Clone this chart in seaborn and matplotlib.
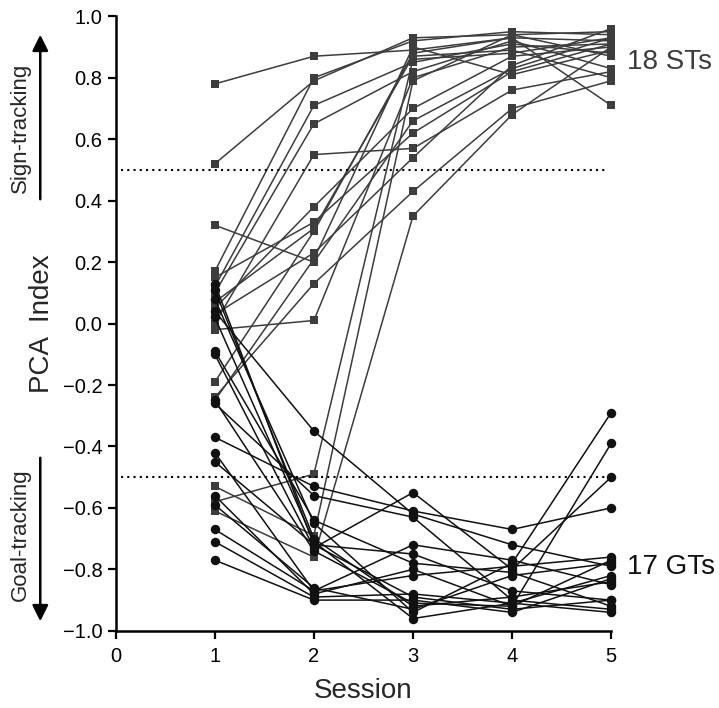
import pandas as pd
import matplotlib.pyplot as plt
import seaborn as sns

sessions = [1, 2, 3, 4, 5]

# PCA index per rat, sessions 1-5
st_rats = [
    [0.78, 0.87, 0.89, 0.93, 0.92],
    [0.52, 0.79, 0.93, 0.94, 0.95],
    [0.32, 0.20, 0.66, 0.83, 0.93],
    [0.17, 0.80, 0.92, 0.95, 0.94],
    [0.15, 0.33, 0.62, 0.82, 0.91],
    [0.12, 0.71, 0.85, 0.91, 0.88],
    [0.10, 0.65, 0.82, 0.92, 0.83],
    [0.07, 0.31, 0.87, 0.89, 0.80],
    [0.05, 0.38, 0.70, 0.87, 0.90],
    [0.03, 0.23, 0.54, 0.84, 0.96],
    [-0.02, 0.01, 0.80, 0.90, 0.91],
    [0.00, 0.55, 0.57, 0.76, 0.82],
    [-0.19, 0.30, 0.88, 0.93, 0.71],
    [-0.24, 0.13, 0.43, 0.70, 0.79],
    [-0.25, 0.21, 0.90, 0.81, 0.89],
    [-0.53, -0.69, 0.79, 0.94, 0.87],
    [-0.58, -0.49, 0.86, 0.88, 0.93],
    [-0.61, -0.76, 0.35, 0.68, 0.90],
]

gt_rats = [
    [0.13, -0.72, -0.89, -0.93, -0.90],
    [0.11, -0.70, -0.92, -0.89, -0.84],
    [0.08, -0.65, -0.94, -0.78, -0.29],
    [0.04, -0.35, -0.62, -0.72, -0.79],
    [0.02, -0.71, -0.96, -0.91, -0.82],
    [-0.09, -0.64, -0.78, -0.81, -0.92],
    [-0.10, -0.73, -0.55, -0.80, -0.50],
    [-0.25, -0.74, -0.91, -0.92, -0.77],
    [-0.26, -0.56, -0.63, -0.90, -0.93],
    [-0.37, -0.53, -0.61, -0.67, -0.60],
    [-0.42, -0.87, -0.82, -0.79, -0.76],
    [-0.45, -0.72, -0.75, -0.87, -0.90],
    [-0.56, -0.88, -0.80, -0.92, -0.39],
    [-0.59, -0.86, -0.93, -0.82, -0.78],
    [-0.67, -0.87, -0.72, -0.77, -0.85],
    [-0.71, -0.89, -0.88, -0.91, -0.94],
    [-0.77, -0.90, -0.90, -0.94, -0.83],
]


def to_long(rats, prefix):
    rows = []
    for i, vals in enumerate(rats):
        for s, v in zip(sessions, vals):
            rows.append({'rat': f'{prefix}{i}', 'session': s, 'pca': v})
    return pd.DataFrame(rows)


st_df = to_long(st_rats, 'st')
gt_df = to_long(gt_rats, 'gt')

sns.set_style('ticks')
plt.rcParams['font.family'] = ['Liberation Sans', 'DejaVu Sans']

fig = plt.figure(figsize=(7.19, 7.08), dpi=100)
ax = fig.add_axes([0.161, 0.109, 0.689, 0.868])

st_color = '#3d3d3d'
gt_color = '#111111'

sns.lineplot(data=st_df, x='session', y='pca', units='rat', estimator=None,
             color=st_color, marker='s', markersize=6.4, markeredgewidth=0,
             linewidth=1.1, clip_on=False, ax=ax, legend=False)
sns.lineplot(data=gt_df, x='session', y='pca', units='rat', estimator=None,
             color=gt_color, marker='o', markersize=6.8, markeredgewidth=0,
             linewidth=1.1, clip_on=False, ax=ax, legend=False)

# cutoff lines
for y in (0.5, -0.5):
    ax.plot([0.05, 4.97], [y, y], color='black', linestyle=(0, (1, 2)),
            linewidth=1.5)

ax.set_xlim(0, 5)
ax.set_ylim(-1, 1)
ax.set_xticks(range(0, 6))
ax.set_yticks([-1.0, -0.8, -0.6, -0.4, -0.2, 0.0, 0.2, 0.4, 0.6, 0.8, 1.0])
ax.set_yticklabels([f'{t:.1f}'.replace('-', '\u2212') for t in ax.get_yticks()])
ax.tick_params(axis='both', labelsize=14.5, width=1.6, length=6, direction='out',
               color='black', labelcolor='black')
ax.tick_params(axis='x', pad=6)
for side in ('left', 'bottom'):
    ax.spines[side].set_linewidth(1.8)
    ax.spines[side].set_color('black')
sns.despine(ax=ax)

ax.set_xlabel('Session', fontsize=20, labelpad=8)
ax.set_ylabel('')

fig.text(0.058, 0.543, 'PCA  Index', rotation=90, fontsize=20,
         ha='center', va='center')

# sign / goal tracking arrows
fig.text(0.028, 0.820, 'Sign-tracking', rotation=90, fontsize=16,
         ha='center', va='center')
ax.annotate('', xy=(0.056, 1 - 32 / 708), xytext=(0.056, 1 - 202 / 708),
            xycoords='figure fraction',
            arrowprops=dict(arrowstyle='-|>', color='black', lw=1.8,
                            mutation_scale=24))
fig.text(0.028, 0.245, 'Goal-tracking', rotation=90, fontsize=16,
         ha='center', va='center')
ax.annotate('', xy=(0.056, 1 - 624 / 708), xytext=(0.056, 1 - 455 / 708),
            xycoords='figure fraction',
            arrowprops=dict(arrowstyle='-|>', color='black', lw=1.8,
                            mutation_scale=24))

fig.text(627 / 719, 1 - 62 / 708, '18 STs', fontsize=20, color=st_color,
         ha='left', va='center')
fig.text(627 / 719, 1 - 567 / 708, '17 GTs', fontsize=20, color=gt_color,
         ha='left', va='center')

fig.savefig('out.png', dpi=100)
